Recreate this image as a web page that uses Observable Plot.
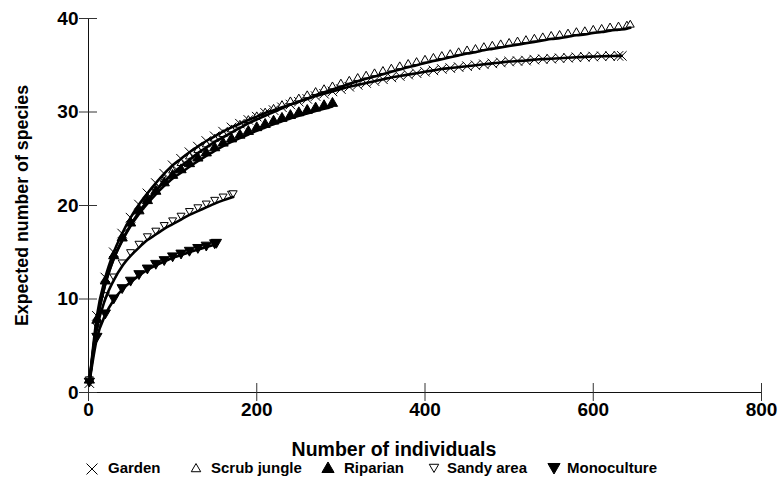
<!DOCTYPE html>
<html><head><meta charset="utf-8">
<script src="https://cdn.jsdelivr.net/npm/d3@7"></script>
<script src="https://cdn.jsdelivr.net/npm/@observablehq/plot@0.6"></script>
<style>
body{margin:0;background:#fff;font-family:"Liberation Sans",Arial,sans-serif;}
#chart{position:relative;width:781px;height:484px;overflow:hidden;}
#legend{position:absolute;left:0;top:458px;width:781px;height:26px;font-weight:bold;font-size:15px;color:#000;}
#legend span.t{position:absolute;top:1px;line-height:18px;}
#legend svg{position:absolute;top:0;}
</style></head><body><div id="chart"></div>
<script>
const xTicks = [0, 200, 400, 600, 800];
const yTicks = [0, 10, 20, 30, 40];
const seriesNames = ["Garden", "Scrub jungle", "Riparian", "Sandy area", "Monoculture"];

const gardenN = [1,10,20,30,40,50,60,70,80,90,100,110,120,130,140,150,160,170,180,190,200,210,220,230,240,250,260,270,280,290,300,310,320,330,340,350,360,370,380,390,400,410,420,430,440,450,460,470,480,490,500,510,520,530,540,550,560,570,580,590,600,610,620,630,634];
const gardenS = [1,8.2,12.3,15.0,17.0,18.7,20.1,21.3,22.4,23.4,24.3,25.0,25.7,26.3,26.9,27.4,27.9,28.35,28.75,29.15,29.5,29.9,30.2,30.5,30.8,31.1,31.4,31.7,31.95,32.2,32.45,32.7,32.9,33.1,33.3,33.5,33.7,33.85,34.0,34.15,34.3,34.45,34.6,34.7,34.8,34.9,35.0,35.1,35.2,35.3,35.4,35.45,35.5,35.6,35.65,35.7,35.75,35.8,35.85,35.9,35.93,35.96,35.98,36.0,36.0];

const scrubN = [1,10,20,30,40,50,60,70,80,90,100,110,120,130,140,150,160,170,180,190,200,210,220,230,240,250,260,270,280,290,300,310,320,330,340,350,360,370,380,390,400,410,420,430,440,450,460,470,480,490,500,510,520,530,540,550,560,570,580,590,600,610,620,630,640,644];
const scrubS = [1,7.6,11.6,14.3,16.3,17.9,19.3,20.5,21.6,22.5,23.4,24.2,24.9,25.6,26.2,26.8,27.3,27.8,28.3,28.8,29.2,29.6,30.0,30.4,30.8,31.1,31.45,31.8,32.1,32.4,32.7,33.0,33.3,33.55,33.8,34.05,34.3,34.55,34.8,35.0,35.25,35.45,35.65,35.85,36.05,36.25,36.4,36.6,36.75,36.9,37.05,37.2,37.35,37.5,37.65,37.8,37.9,38.05,38.2,38.3,38.45,38.55,38.7,38.8,38.9,39.0];

const riparianN = [1,10,20,30,40,50,60,70,80,90,100,110,120,130,140,150,160,170,180,190,200,210,220,230,240,250,260,270,280,290];
const riparianS = [1,7.4,11.6,14.3,16.2,17.8,19.1,20.2,21.2,22.1,22.9,23.5,24.15,24.75,25.3,25.85,26.35,26.8,27.2,27.6,28.0,28.35,28.7,29.0,29.3,29.6,29.85,30.1,30.35,30.6];

const sandyN = [1,10,20,30,40,50,60,70,80,90,100,110,120,130,140,150,160,170,172];
const sandyS = [1,6.8,10.0,12.0,13.5,14.6,15.5,16.3,16.9,17.5,18.0,18.5,19.0,19.4,19.8,20.2,20.55,20.85,20.9];

const monoN = [1,10,20,30,40,50,60,70,80,90,100,110,120,130,140,150,152];
const monoS = [1,5.8,8.3,9.9,11.0,11.8,12.5,13.1,13.6,14.0,14.4,14.7,15.0,15.3,15.55,15.8,15.85];

const series = [
  {name: seriesNames[0], n: gardenN, s: gardenS, symbol: "times", fill: "none", stroke: "black", rotate: 0, dy: 0, r: 4.4},
  {name: seriesNames[1], n: scrubN, s: scrubS, symbol: "triangle2", fill: "white", stroke: "black", rotate: 0, dy: -3, r: 3.8},
  {name: seriesNames[2], n: riparianN, s: riparianS, symbol: "triangle", fill: "black", stroke: "black", rotate: 0, dy: -3, r: 3.8},
  {name: seriesNames[3], n: sandyN, s: sandyS, symbol: "triangle2", fill: "white", stroke: "black", rotate: 180, dy: -4, r: 3.8},
  {name: seriesNames[4], n: monoN, s: monoS, symbol: "triangle", fill: "black", stroke: "black", rotate: 180, dy: -2, r: 3.8}
];
const rows = series.map(sr => sr.n.map((n, i) => ({series: sr.name, n, s: sr.s[i]})));

const marks = [];
series.forEach((sr, k) => {
  marks.push(Plot.dot(rows[k], {x: "n", y: "s", symbol: sr.symbol, fill: sr.fill, stroke: sr.stroke,
    strokeWidth: 1, r: sr.r, rotate: sr.rotate, dy: sr.dy}));
});
series.forEach((sr, k) => {
  marks.push(Plot.line(rows[k], {x: "n", y: "s", stroke: "black", strokeWidth: 2.6, curve: "monotone-x"}));
});

const chart = Plot.plot({
  width: 781,
  height: 458,
  marginLeft: 88,
  marginRight: 20,
  marginTop: 18,
  marginBottom: 66,
  style: {fontFamily: "'Liberation Sans', Arial, sans-serif", color: "black", background: "white"},
  x: {domain: [0, 800]},
  y: {domain: [0, 40]},
  marks: [
    Plot.ruleX([0], {stroke: "#111", strokeWidth: 1}),
    Plot.ruleY([0], {stroke: "#111", strokeWidth: 1}),
    Plot.ruleX(xTicks, {x: d => d, y1: -0.96, y2: 0.96, stroke: "#333", strokeWidth: 1}),
    Plot.ruleY(yTicks, {y: d => d, x1: -10.7, x2: 10.7, stroke: "#333", strokeWidth: 1}),
    Plot.axisX(xTicks, {tickSize: 0, tickPadding: 10, fontSize: 19, fontWeight: "bold", label: null}),
    Plot.axisY(yTicks, {tickSize: 0, tickPadding: 10, fontSize: 19, fontWeight: "bold", label: null}),
    Plot.text(["Number of individuals"], {frameAnchor: "bottom", dx: -31, dy: 63, fontSize: 19.5, fontWeight: "bold", fill: "black"}),
    Plot.text(["Expected number of species"], {frameAnchor: "left", textAnchor: "middle", lineAnchor: "middle", dx: -66, rotate: -90, fontSize: 17.8, fontWeight: "bold", fill: "black"}),
    ...marks
  ]
});
const root = document.getElementById("chart");
root.appendChild(chart);

// legend
const legend = document.createElement("div");
legend.id = "legend";
const symX = [92, 196, 328, 434, 554];
const txtX = [108, 211, 344, 447, 567];
series.forEach((sr, i) => {
  const svg = d3.create("svg").attr("width", 14).attr("height", 18)
    .style("left", (symX[i] - 7) + "px");
  const shape = sr.symbol === "times" ? d3.symbolTimes : sr.symbol === "triangle2" ? d3.symbolTriangle2 : d3.symbolTriangle;
  svg.append("path")
    .attr("d", d3.symbol(shape, sr.symbol === "times" ? 80 : 64)())
    .attr("transform", `translate(7,${sr.rotate ? 9 : 11}) rotate(${sr.rotate})`)
    .attr("fill", sr.fill === "white" ? "none" : sr.fill)
    .attr("stroke", sr.stroke)
    .attr("stroke-width", 1);
  legend.appendChild(svg.node());
  const t = document.createElement("span");
  t.className = "t";
  t.style.left = txtX[i] + "px";
  t.textContent = sr.name;
  legend.appendChild(t);
});
root.appendChild(legend);
</script>
</body></html>
